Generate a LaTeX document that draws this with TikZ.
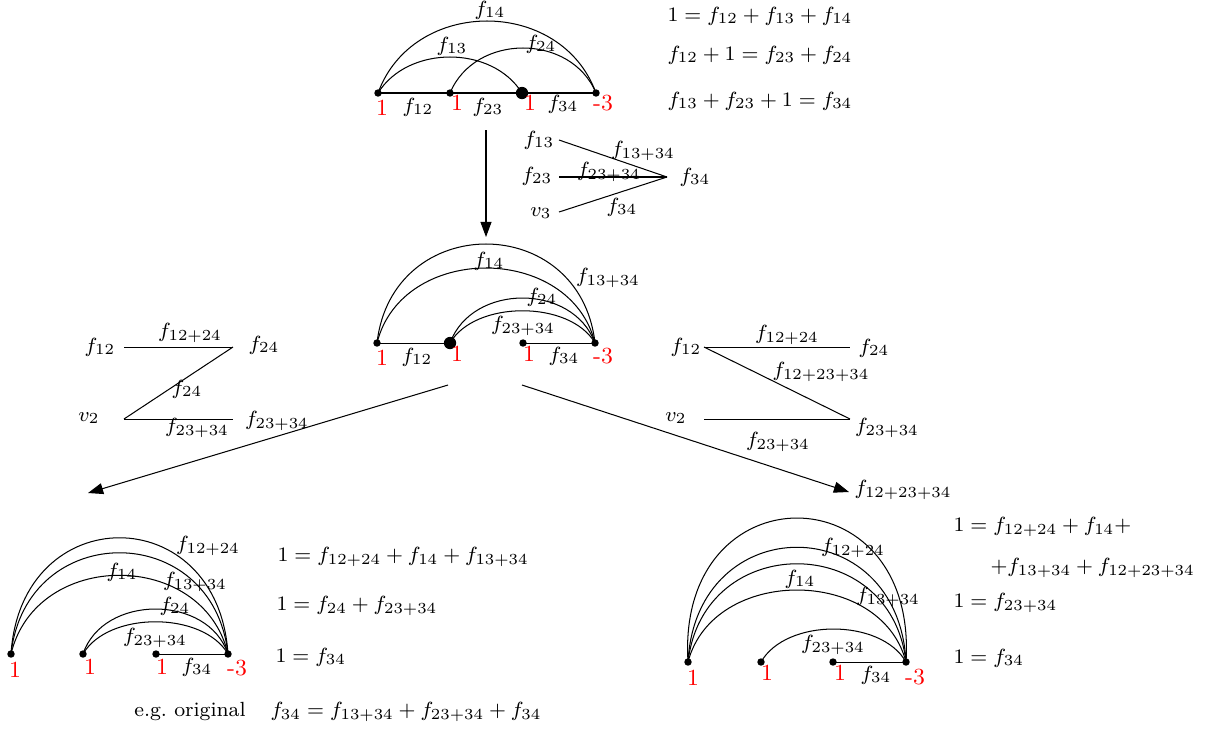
\documentclass[tikz,border=0pt]{standalone}
\usetikzlibrary{arrows.meta}
\begin{document}
\begin{tikzpicture}[x=0.39pt,y=-0.39pt,
  dot/.style={circle,fill,inner sep=0pt,minimum size=2.9pt},
  bigdot/.style={circle,fill,inner sep=0pt,minimum size=4.8pt},
  lbl/.style={inner sep=0pt,font=\footnotesize},
  rl/.style={inner sep=0pt,text=red,font=\small},
  eq/.style={anchor=west,inner sep=0pt,font=\footnotesize},
  arr/.style={-{Triangle[length=5.9pt,width=4.3pt]}}]
\useasboundingbox (0,0) rectangle (1205,729);

% ---------- top diagram ----------
\node[dot] (a1) at (378,93) {};
\node[dot] (a2) at (450,93) {};
\node[bigdot] (a3) at (522,93) {};
\node[dot] (a4) at (596,93) {};
\draw (a1.center) -- (a4.center);
\draw (a1.center) .. controls +(35,-96) and +(-35,-96) .. (a4.center);
\draw (a1.center) .. controls +(30,-48) and +(-30,-48) .. (a3.center);
\draw (a2.center) .. controls +(25,-60) and +(-25,-60) .. (a4.center);
\node[lbl] (la14) at (490,10) {$f_{14}$};
\node[lbl] (la13) at (452,46) {$f_{13}$};
\node[lbl] (la24) at (541,44) {$f_{24}$};
\node[lbl] (la12) at (418,107) {$f_{12}$};
\node[lbl] (la23) at (488,107) {$f_{23}$};
\node[lbl] (la34) at (563,104) {$f_{34}$};
\node[rl] (ra1) at (382,108) {1};
\node[rl] (ra2) at (457,103) {1};
\node[rl] (ra3) at (530,103) {1};
\node[rl] (ra4) at (603,103) {-3};

\node[eq] (e1) at (667,16) {$1=f_{12}+f_{13}+f_{14}$};
\node[eq] (e2) at (667,55) {$f_{12}+1=f_{23}+f_{24}$};
\node[eq] (e3) at (667,101) {$f_{13}+f_{23}+1=f_{34}$};

\coordinate (t0) at (486,130);
\coordinate (t1) at (486,237);
\draw[arr] (t0) -- (t1);

% ---------- crossing diagram 1 ----------
\coordinate (c13) at (559,140);
\coordinate (c23) at (559,177);
\coordinate (cv3) at (559,212);
\coordinate (c34) at (667,177);
\node[lbl] (n13) at (539,140) {$f_{13}$};
\node[lbl] (n23) at (537,176) {$f_{23}$};
\node[lbl] (nv3) at (541,213) {$v_3$};
\node[lbl] (n34) at (695,177) {$f_{34}$};
\draw (c13) -- (c34);
\draw (c23) -- (c34);
\draw (cv3) -- (c34);
\node[lbl] (k1) at (643,151) {$f_{13+34}$};
\node[lbl] (k2) at (609,172) {$f_{23+34}$};
\node[lbl] (k3) at (622,207) {$f_{34}$};

% ---------- middle diagram ----------
\node[dot] (m1) at (377,343) {};
\node[bigdot] (m2) at (450,343) {};
\node[dot] (m3) at (523,343) {};
\node[dot] (m4) at (595,343) {};
\draw (m1.center) -- (m2.center);
\draw (m3.center) -- (m4.center);
\draw (m1.center) .. controls +(15,-132) and +(-15,-132) .. (m4.center);
\draw (m1.center) .. controls +(25,-100) and +(-25,-100) .. (m4.center);
\draw (m2.center) .. controls +(22,-60) and +(-22,-60) .. (m4.center);
\draw (m2.center) .. controls +(25,-43) and +(-25,-43) .. (m4.center);
\node[lbl] (lm14) at (489,261) {$f_{14}$};
\node[lbl] (lm1334) at (608,278) {$f_{13+34}$};
\node[lbl] (lm24) at (542,297) {$f_{24}$};
\node[lbl] (lm2334) at (523,326) {$f_{23+34}$};
\node[lbl] (lm12) at (417,357) {$f_{12}$};
\node[lbl] (lm34) at (564,356) {$f_{34}$};
\node[rl] (rm1) at (382,358) {1};
\node[rl] (rm2) at (457,354) {1};
\node[rl] (rm3) at (529,354) {1};
\node[rl] (rm4) at (603,356) {-3};

% ---------- left crossing diagram ----------
\coordinate (L12) at (124,347);
\coordinate (L24) at (233,347);
\coordinate (Lv2) at (124,419);
\coordinate (L2334) at (233,419);
\node[lbl] (tL12) at (100,347) {$f_{12}$};
\node[lbl] (tL24) at (264,345) {$f_{24}$};
\node[lbl] (tLv2) at (89,418) {$v_2$};
\node[lbl] (tL2334) at (277,421) {$f_{23+34}$};
\draw (L12) -- (L24);
\draw (L24) -- (Lv2);
\draw (Lv2) -- (L2334);
\node[lbl] (eL1) at (190,333) {$f_{12+24}$};
\node[lbl] (eL2) at (187,389) {$f_{24}$};
\node[lbl] (eL3) at (197,428) {$f_{23+34}$};

% ---------- right crossing diagram ----------
\coordinate (R12) at (704,347);
\coordinate (R24) at (850,347);
\coordinate (Rv2) at (704,419);
\coordinate (R2334) at (850,419);
\node[lbl] (tR12) at (686,347) {$f_{12}$};
\node[lbl] (tR24) at (874,348) {$f_{24}$};
\node[lbl] (tRv2) at (676,418) {$v_2$};
\node[lbl] (tR2334) at (887,428) {$f_{23+34}$};
\draw (R12) -- (R24);
\draw (R12) -- (R2334);
\draw (Rv2) -- (R2334);
\node[lbl] (eR1) at (787,335) {$f_{12+24}$};
\node[lbl] (eR2) at (821,372) {$f_{12+23+34}$};
\node[lbl] (eR3) at (778,442) {$f_{23+34}$};
\node[lbl] (tR122334) at (903,490) {$f_{12+23+34}$};

% ---------- arrows down ----------
\coordinate (s0) at (448,385);
\coordinate (s1) at (88,493);
\coordinate (u0) at (522,385);
\coordinate (u1) at (849,492);
\draw[arr] (s0) -- (s1);
\draw[arr] (u0) -- (u1);

% ---------- bottom left diagram ----------
\node[dot] (b1) at (11,654) {};
\node[dot] (b2) at (83,654) {};
\node[dot] (b3) at (156,654) {};
\node[dot] (b4) at (228,654) {};
\draw (b3.center) -- (b4.center);
\draw (b1.center) .. controls +(10,-155) and +(-10,-155) .. (b4.center);
\draw (b1.center) .. controls +(15,-135) and +(-15,-135) .. (b4.center);
\draw (b1.center) .. controls +(25,-105) and +(-25,-105) .. (b4.center);
\draw (b2.center) .. controls +(20,-60) and +(-20,-60) .. (b4.center);
\draw (b2.center) .. controls +(25,-43) and +(-25,-43) .. (b4.center);
\node[lbl] (lb1224) at (208,546) {$f_{12+24}$};
\node[lbl] (lb14) at (122,572) {$f_{14}$};
\node[lbl] (lb1334) at (195,582) {$f_{13+34}$};
\node[lbl] (lb24) at (175,606) {$f_{24}$};
\node[lbl] (lb2334) at (155,638) {$f_{23+34}$};
\node[lbl] (lb34) at (197,667) {$f_{34}$};
\node[rl] (rb1) at (15,670) {1};
\node[rl] (rb2) at (90,667) {1};
\node[rl] (rb3) at (162,667) {1};
\node[rl] (rb4) at (237,668) {-3};
\node[eq] (eb1) at (277,557) {$1=f_{12+24}+f_{14}+f_{13+34}$};
\node[eq] (eb2) at (276,606) {$1=f_{24}+f_{23+34}$};
\node[eq] (eb3) at (275,657) {$1=f_{34}$};
\node[lbl] (eg) at (190,711) {e.g.\ original};
\node[eq] (eb4) at (270,712) {$f_{34}=f_{13+34}+f_{23+34}+f_{34}$};

% ---------- bottom right diagram ----------
\node[dot] (r1) at (688,662) {};
\node[dot] (r2) at (761,662) {};
\node[dot] (r3) at (833,662) {};
\node[dot] (r4) at (906,662) {};
\draw (r3.center) -- (r4.center);
\draw (r1.center) .. controls +(-12,-192) and +(12,-192) .. (r4.center);
\draw (r1.center) .. controls +(8,-153) and +(-8,-153) .. (r4.center);
\draw (r1.center) .. controls +(15,-131) and +(-15,-131) .. (r4.center);
\draw (r1.center) .. controls +(25,-96) and +(-25,-96) .. (r4.center);
\draw (r2.center) .. controls +(25,-44) and +(-25,-44) .. (r4.center);
\node[lbl] (lr1224) at (853,548) {$f_{12+24}$};
\node[lbl] (lr14) at (800,579) {$f_{14}$};
\node[lbl] (lr1334) at (888,597) {$f_{13+34}$};
\node[lbl] (lr2334) at (833,645) {$f_{23+34}$};
\node[lbl] (lr34) at (876,675) {$f_{34}$};
\node[rl] (rr1) at (693,678) {1};
\node[rl] (rr2) at (767,673) {1};
\node[rl] (rr3) at (840,673) {1};
\node[rl] (rr4) at (915,677) {-3};
\node[eq] (er1) at (953,527) {$1=f_{12+24}+f_{14}+$};
\node[eq] (er2) at (990,568) {$+f_{13+34}+f_{12+23+34}$};
\node[eq] (er3) at (953,603) {$1=f_{23+34}$};
\node[eq] (er4) at (953,658) {$1=f_{34}$};
\end{tikzpicture}
\end{document}
